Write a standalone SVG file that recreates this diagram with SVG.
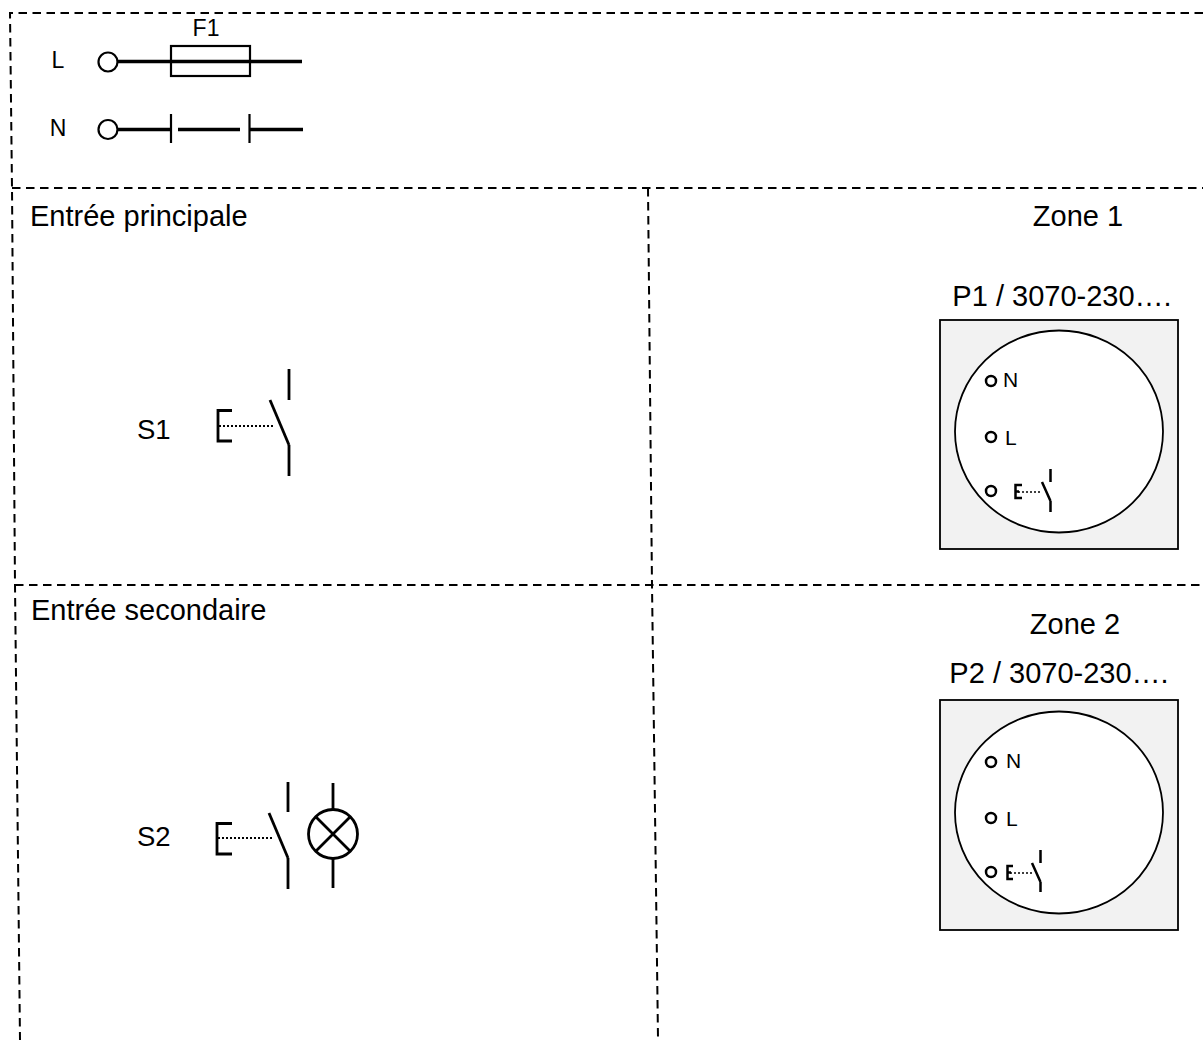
<svg xmlns="http://www.w3.org/2000/svg" width="1203" height="1057" viewBox="0 0 1203 1057">
<style>
text{font-family:"Liberation Sans",Arial,sans-serif;fill:#000}
.d{fill:none;stroke:#000;stroke-width:2;stroke-dasharray:8.500 5.500}
.l{fill:none;stroke:#000;stroke-width:2.200}
.h{fill:none;stroke:#000;stroke-width:2.800}
.b{fill:none;stroke:#000;stroke-width:3.500}
.dot{fill:none;stroke:#000;stroke-width:2;stroke-dasharray:2 2}
.p{font-size:29px}.q{font-size:27.500px}.s{font-size:23px}.m{font-size:21px}
.panel{fill:#f2f2f2;stroke:#000;stroke-width:1.800}
.disc{fill:#fff;stroke:#000;stroke-width:1.800}
.t{fill:#fff;stroke:#000;stroke-width:2.500}
.sw{fill:none;stroke:#000;stroke-width:2.500}
</style>
<rect width="1203" height="1057" fill="#fff"/>
<g id="connectors">
<path class="d" d="M1203 13H10L12 188L15 585L20 1040"/>
<path class="d" d="M12 188H1203"/>
<path class="d" d="M15 585H1203"/>
<path class="d" d="M648 188L652 585L658 1038"/>
<path class="b" d="M118 61.500H302M118 129.500H170M178 129.500H240M250 129.500H303"/>
<path class="l" d="M171 114V143M249.500 114V143"/>
</g>
<g id="L"><text x="58" y="68" class="s" text-anchor="middle">L</text><circle class="l" cx="108" cy="62" r="9.500" fill="none"/></g>
<g id="N"><text x="58" y="136" class="s" text-anchor="middle">N</text><circle class="l" cx="108" cy="129.500" r="9.500"/></g>
<g id="F1"><rect x="171" y="46" width="79" height="30" class="l"/><text x="206" y="36" class="s" text-anchor="middle">F1</text></g>
<g id="entree-principale"><text x="30" y="226" class="p">Entrée principale</text></g>
<g id="entree-secondaire"><text x="31" y="620" class="p">Entrée secondaire</text></g>
<g id="S1">
<text x="137" y="439" class="q">S1</text>
<path class="h" d="M232 410.500H218V441H232"/>
<path class="dot" d="M219 426H274"/>
<path class="h" d="M289 369V400M289 445V476"/>
<path class="h" d="M270 400L289 445"/>
</g>
<g id="S2">
<text x="137" y="846" class="q">S2</text>
<path class="h" d="M232 823.500H217V854H232"/>
<path class="dot" d="M218 838H273"/>
<path class="h" d="M288 782V812M288 858V889"/>
<path class="h" d="M269 813L288 858"/>
<circle cx="333" cy="834" r="24.500" class="h"/>
<path class="h" d="M316 817L350 851M350 817L316 851"/>
<path class="h" d="M333 783V810M333 858V888"/>
</g>
<g id="zone1">
<text x="1078" y="226" class="p" text-anchor="middle">Zone 1</text>
<text x="1062" y="306" class="p" text-anchor="middle">P1 / 3070-230….</text>
</g>
<g id="P1">
<rect x="940" y="320" width="238" height="229" class="panel"/>
<ellipse cx="1059" cy="431.500" rx="104" ry="101" class="disc"/>
<circle cx="991" cy="381" r="5" class="t"/><circle cx="991" cy="437" r="5" class="t"/><circle cx="991" cy="491" r="5" class="t"/>
<text x="1003" y="387" class="m">N</text><text x="1005" y="445" class="m">L</text>
<path class="sw" d="M1022 485H1015.500V498H1022M1015 491.500H1019"/>
<path class="dot" d="M1018 492H1042" style="stroke-width:1.500"/>
<path class="sw" d="M1050.500 469V482M1050.500 501V512M1042 482L1050.500 501"/>
</g>
<g id="zone2">
<text x="1075" y="634" class="p" text-anchor="middle">Zone 2</text>
<text x="1059" y="683" class="p" text-anchor="middle">P2 / 3070-230….</text>
</g>
<g id="P2">
<rect x="940" y="700" width="238" height="230" class="panel"/>
<ellipse cx="1059" cy="812.500" rx="104" ry="101" class="disc"/>
<circle cx="991" cy="762" r="5" class="t"/><circle cx="991" cy="818" r="5" class="t"/><circle cx="991" cy="872" r="5" class="t"/>
<text x="1006" y="768" class="m">N</text><text x="1006" y="826" class="m">L</text>
<path class="sw" d="M1013 866H1007.500V879H1013M1007 872.500H1011"/>
<path class="dot" d="M1010 873H1032" style="stroke-width:1.500"/>
<path class="sw" d="M1040.500 850V863M1040.500 882V892M1032 863L1040.500 882"/>
</g>
</svg>
